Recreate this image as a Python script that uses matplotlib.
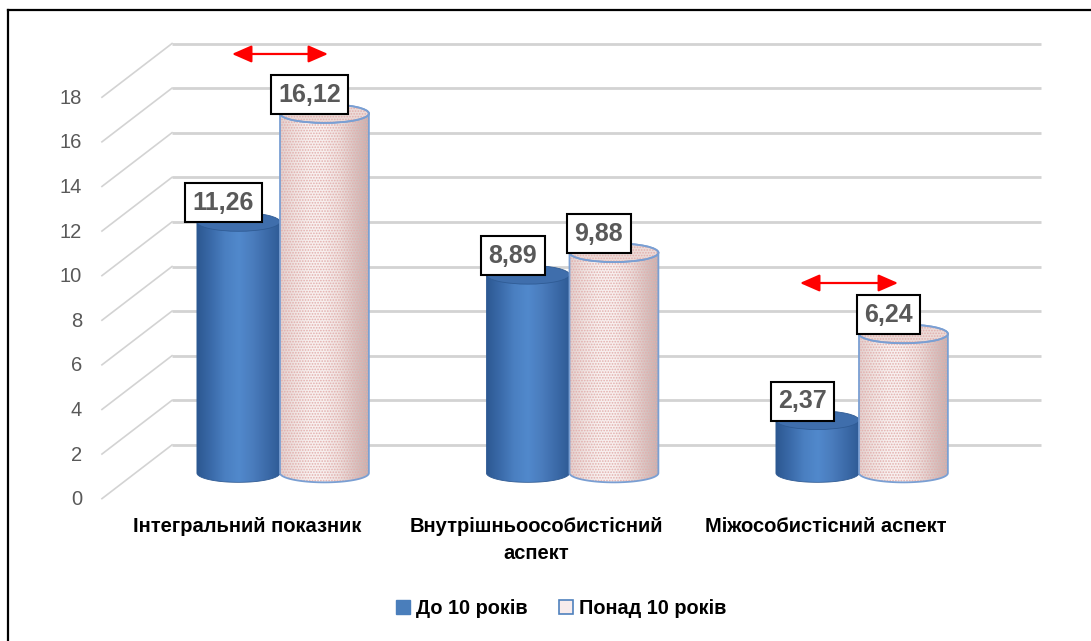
import numpy as np
import matplotlib
matplotlib.use("Agg")
import matplotlib.pyplot as plt
from matplotlib.patches import Polygon, Ellipse, Patch
from matplotlib.lines import Line2D

plt.rcParams['font.family'] = ['Liberation Sans', 'DejaVu Sans']
plt.rcParams['hatch.linewidth'] = 0.8

# -----------------------------
# DATA
# -----------------------------
categories = ["Інтегральний показник", "Внутрішньоособистісний\nаспект", "Міжособистісний аспект"]
series_names = ["До 10 років", "Понад 10 років"]
under_10 = [11.26, 8.89, 2.37]
over_10 = [16.12, 9.88, 6.24]
y_ticks = [0, 2, 4, 6, 8, 10, 12, 14, 16, 18]

# -----------------------------
# STYLE
# -----------------------------
GRID_COLOR = "#d3d3d3"
TICK_COLOR = "#595959"
BLUE_GRAD = ["#2c5891", "#3a6aa9", "#4a7fc1", "#5189cc", "#4a7cbd", "#3c6ba9", "#2e5b95"]
PINK_GRAD = ["#e3d0ce", "#f0e3e1", "#f8f0ef", "#f8efee", "#eee0de", "#d9c6c4", "#c6b0ae"]
PINK_EDGE = "#7a9fd3"
ELL = 0.42          # half-height of the cylinder caps, in value units
DEPTH_BACK = 1.26   # back wall offset, value units
DEPTH_FRONT = 1.15  # front edge offset, value units

fig = plt.figure(figsize=(10.91, 6.41), dpi=100)
ax = fig.add_axes([0, 0, 1, 1])
ax.set_axis_off()


def gradient(colors, n=200):
    rgb = np.array([matplotlib.colors.to_rgb(c) for c in colors])
    pos = np.linspace(0, 1, len(colors))
    t = np.linspace(0, 1, n)
    out = np.stack([np.interp(t, pos, rgb[:, k]) for k in range(3)], axis=-1)
    return out[np.newaxis, :, :]


def cylinder(cx, w, v, colors, top_face, edge, lw, z, hatch=None):
    x0, x1 = cx - w / 2, cx + w / 2
    t = np.linspace(np.pi, 2 * np.pi, 80)
    arc = np.column_stack([cx + w / 2 * np.cos(t), ELL * np.sin(t)])
    verts = np.vstack([[x0, v], arc, [x1, v]])
    body = Polygon(verts, closed=True, facecolor="none", edgecolor="none", zorder=z)
    ax.add_patch(body)
    img = ax.imshow(gradient(colors), extent=[x0, x1, -ELL, v], aspect="auto",
                    interpolation="bilinear", zorder=z)
    img.set_clip_path(body)
    if hatch:
        ax.add_patch(Polygon(verts, closed=True, facecolor="none", edgecolor="#e2aeac",
                             lw=0, hatch=hatch, zorder=z + 0.1))
    ax.add_patch(Polygon(verts, closed=True, facecolor="none", edgecolor=edge,
                         lw=lw, zorder=z + 0.2))
    ax.add_patch(Ellipse((cx, v), w, 2 * ELL, facecolor=top_face, edgecolor=edge,
                         lw=lw, zorder=z + 0.3))
    if hatch:
        ax.add_patch(Ellipse((cx, v), w, 2 * ELL, facecolor="none", edgecolor="#e2aeac",
                             lw=0, hatch=hatch, zorder=z + 0.4))
        ax.add_patch(Ellipse((cx, v), w, 2 * ELL, facecolor="none", edgecolor=edge,
                             lw=lw, zorder=z + 0.5))


# back wall gridlines + diagonal side lines
for v in y_ticks:
    ax.plot([-0.373, 2.629], [v + DEPTH_BACK, v + DEPTH_BACK], color=GRID_COLOR, lw=2.0,
            solid_capstyle="butt", zorder=1)
    ax.plot([-0.615, -0.373], [v - DEPTH_FRONT, v + DEPTH_BACK], color=GRID_COLOR, lw=1.2,
            zorder=1)
    ax.text(-0.684, v - 1.2, str(v), ha="right", va="center", fontsize=14.5, color=TICK_COLOR)

# cylinders
x = np.arange(len(categories))
w_blue, w_pink = 0.287, 0.307
for i in range(len(categories)):
    cb = x[i] - w_blue / 2
    cp = x[i] + w_pink / 2
    cylinder(cb, w_blue, under_10[i], BLUE_GRAD, "#3f6eac", "#2f5b94", 0.6, 3)
    cylinder(cp, w_pink, over_10[i], PINK_GRAD, "#ecdbd8", PINK_EDGE, 1.3, 4, hatch="......")
    for c, val in ((cb, under_10[i]), (cp, over_10[i])):
        ax.text(c - 0.052, val + 0.85, f"{val:.2f}".replace(".", ","), ha="center", va="center",
                fontsize=18, fontweight="bold", color=TICK_COLOR, zorder=10,
                bbox=dict(boxstyle="square,pad=0.3", facecolor="white", edgecolor="black", lw=1.5))
    ax.text(x[i] - 0.115, -1.98, categories[i], ha="center", va="top", fontsize=14.5,
            fontweight="bold", color="black", linespacing=1.55)

# red double arrows
for xa, xb, ya in ((-0.166, 0.166, 18.79), (1.796, 2.135, 8.52)):
    ax.annotate("", xy=(xb, ya), xytext=(xa, ya),
                arrowprops=dict(arrowstyle="<|-|>,head_length=0.8,head_width=0.35",
                                color="red", lw=1.6, mutation_scale=15,
                                shrinkA=0, shrinkB=0), zorder=9)

ax.set_xlim(-280 / 289.5, (1091 - 280) / 289.5)
ax.set_ylim(-(641 - 473) / 22.3, 473 / 22.3)

# legend
handles = [Patch(facecolor="#4a7ebb", edgecolor="#4a7ebb"),
           Patch(facecolor="#f8ecec", edgecolor="#4f81bd", lw=1.2)]
fig.legend(handles, series_names, loc="center", bbox_to_anchor=(561 / 1091, 1 - 608 / 641),
           ncol=2, frameon=False, handlelength=0.7, handleheight=0.7, handletextpad=0.3,
           columnspacing=1.6, prop=dict(size=14.3, weight="bold"))

# chart frame (top and left edges)
fig.add_artist(Line2D([8 / 1091, 1], [1 - 9.5 / 641, 1 - 9.5 / 641], color="black", lw=1.6,
                      transform=fig.transFigure))
fig.add_artist(Line2D([8 / 1091, 8 / 1091], [0, 1 - 9.5 / 641], color="black", lw=1.6,
                      transform=fig.transFigure))

fig.savefig("out.png", dpi=100)
